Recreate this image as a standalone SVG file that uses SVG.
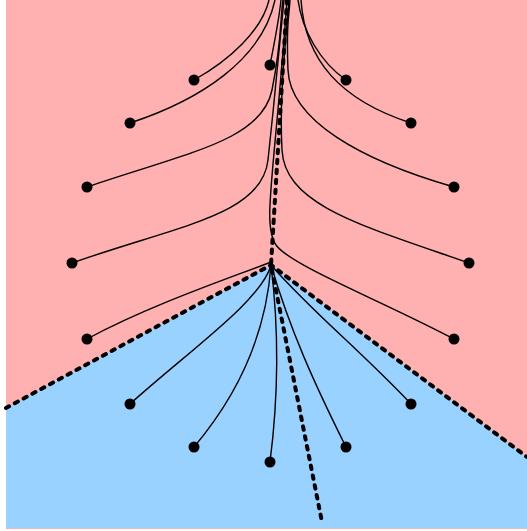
<svg xmlns="http://www.w3.org/2000/svg" width="527" height="531" viewBox="0 0 527 531">
<style>
.traj{fill:none;stroke:#000;stroke-width:1.4}
.sep{fill:none;stroke:#000;stroke-width:4;stroke-dasharray:3.5 6.5;stroke-linecap:round}
.dot{fill:#000}
</style>
<rect x="0" y="0" width="527" height="531" fill="#fff"/>
<g id="regions">
<rect id="pink-region" x="6" y="0" width="521" height="529" fill="#ffb0b0"/>
<polygon id="blue-region" points="6,408 271,265 527,457 527,528 6,528" fill="#99d1ff"/>
</g>
<g id="connectors">
<path class="traj" d="M194,80 C230,60 262,30 269,0"/>
<path class="traj" d="M130,123 C200,100 262,60 275,0"/>
<path class="traj" d="M270,65 C274,45 279,20 281,0"/>
<path class="traj" d="M87,187 C190,152 262,140 272,90 S280,20 283,0"/>
<path class="traj" d="M72,263 C180,225 262,215 268,160 S280,40 284,0"/>
<path class="traj" d="M87,339 C150,305 230,278 271,262"/>
<path class="traj" d="M346,80 C320,62 302,30 298,0"/>
<path class="traj" d="M411,123 C340,100 305,60 301,0"/>
<path class="traj" d="M454,187 C360,160 290,120 288,70 S289,20 290,0"/>
<path class="traj" d="M469,263 C360,225 285,205 282,150 S286,40 289,0"/>
<path class="traj" d="M454,339 C380,300 290,265 276,245 S274,180 287,0"/>
<path class="traj" d="M271,265 C262,300 190,350 130,404"/>
<path class="traj" d="M271,265 C266,335 238,395 194,447"/>
<path class="traj" d="M271,265 C279,330 278,400 270,462"/>
<path class="traj" d="M271,265 C290,330 315,385 346,447"/>
<path class="traj" d="M271,265 C310,310 360,350 411,404"/>
<path class="sep" d="M287,0 L271,265 L322,522"/>
<path class="sep" d="M6,408 L271,265 L527,457"/>
</g>
<g id="saddle"><circle class="dot" cx="271" cy="265" r="2"/></g>
<g id="p1"><circle class="dot" cx="194" cy="80" r="5.5"/></g>
<g id="p2"><circle class="dot" cx="270" cy="65" r="5.5"/></g>
<g id="p3"><circle class="dot" cx="346" cy="80" r="5.5"/></g>
<g id="p4"><circle class="dot" cx="130" cy="123" r="5.5"/></g>
<g id="p5"><circle class="dot" cx="411" cy="123" r="5.5"/></g>
<g id="p6"><circle class="dot" cx="87" cy="187" r="5.5"/></g>
<g id="p7"><circle class="dot" cx="454" cy="187" r="5.5"/></g>
<g id="p8"><circle class="dot" cx="72" cy="263" r="5.5"/></g>
<g id="p9"><circle class="dot" cx="469" cy="263" r="5.5"/></g>
<g id="p10"><circle class="dot" cx="87" cy="339" r="5.5"/></g>
<g id="p11"><circle class="dot" cx="454" cy="339" r="5.5"/></g>
<g id="q1"><circle class="dot" cx="130" cy="404" r="5.5"/></g>
<g id="q2"><circle class="dot" cx="411" cy="404" r="5.5"/></g>
<g id="q3"><circle class="dot" cx="194" cy="447" r="5.5"/></g>
<g id="q4"><circle class="dot" cx="346" cy="447" r="5.5"/></g>
<g id="q5"><circle class="dot" cx="270" cy="462" r="5.5"/></g>
</svg>
